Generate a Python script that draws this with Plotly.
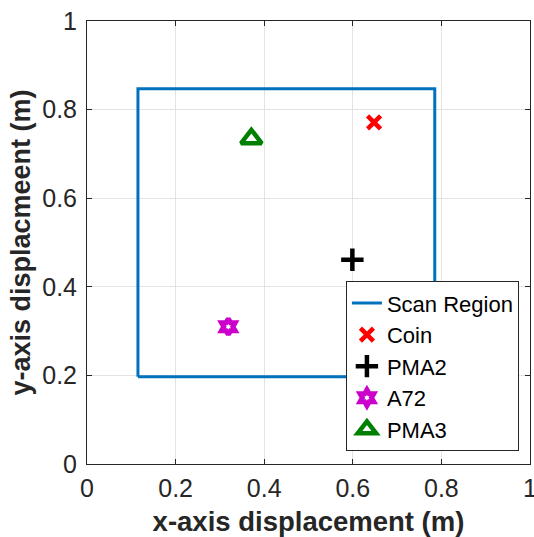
import plotly.graph_objects as go

# Data
scan_x = [0.115, 0.785, 0.785, 0.115, 0.115]
scan_y = [0.197, 0.197, 0.847, 0.847, 0.197]
names = ["Coin", "PMA2", "A72", "PMA3"]
obj_x = [0.648, 0.599, 0.319, 0.371]
obj_y = [0.771, 0.461, 0.310, 0.734]
tick_vals = [0, 0.2, 0.4, 0.6, 0.8, 1]
tick_text = ["0", "0.2", "0.4", "0.6", "0.8", "1"]

styles = {
    "Coin": dict(symbol="x-thin-open", size=13, color="#ff0000", line=dict(width=4.5, color="#ff0000")),
    "PMA2": dict(symbol="cross-thin-open", size=16, color="#000000", line=dict(width=4.5, color="#000000")),
    "A72": dict(symbol="hexagram-open", size=12, color="#cc00cc", line=dict(width=5, color="#cc00cc")),
    "PMA3": dict(symbol="triangle-up-open", size=18, color="#008000", line=dict(width=4.5, color="#008000")),
}

fig = go.Figure()
fig.add_trace(go.Scatter(x=scan_x, y=scan_y, mode="lines", name="Scan Region",
                         line=dict(color="#0072BD", width=3)))
for n, x, y in zip(names, obj_x, obj_y):
    fig.add_trace(go.Scatter(x=[x], y=[y], mode="markers", name=n, marker=styles[n]))

font = "Liberation Sans, Arial, Helvetica, sans-serif"
axis_common = dict(
    range=[0, 1], tickvals=tick_vals, ticktext=tick_text,
    showgrid=True, gridcolor="#e3e3e3", gridwidth=1,
    showline=True, linecolor="#262626", linewidth=1, mirror="ticks",
    ticks="inside", ticklen=5, tickcolor="#262626",
    tickfont=dict(family=font, size=25, color="#262626"),
    ticklabeloverflow="allow", automargin=False,
    zeroline=False,
)
fig.update_layout(
    width=534, height=537,
    margin=dict(l=87, r=4, t=21, b=73),
    plot_bgcolor="white", paper_bgcolor="white",
    font=dict(family=font, color="#262626"),
    xaxis=dict(**axis_common,
               title=dict(text="<b>x-axis displacement (m)</b>", font=dict(family=font, size=27.5, color="#262626"), standoff=10),
               ticklabelstandoff=2),
    yaxis=dict(**axis_common,
               title=dict(text="<b>y-axis displacmeent (m)</b>", font=dict(family=font, size=27, color="#262626"), standoff=3),
               ticklabelstandoff=4),
    legend=dict(x=0.975, y=0.029, xanchor="right", yanchor="bottom",
                bgcolor="white", bordercolor="#262626", borderwidth=1,
                font=dict(family=font, size=22, color="#000000"),
                itemwidth=30, tracegroupgap=0),
    showlegend=True,
)
fig.write_html("out.html")
